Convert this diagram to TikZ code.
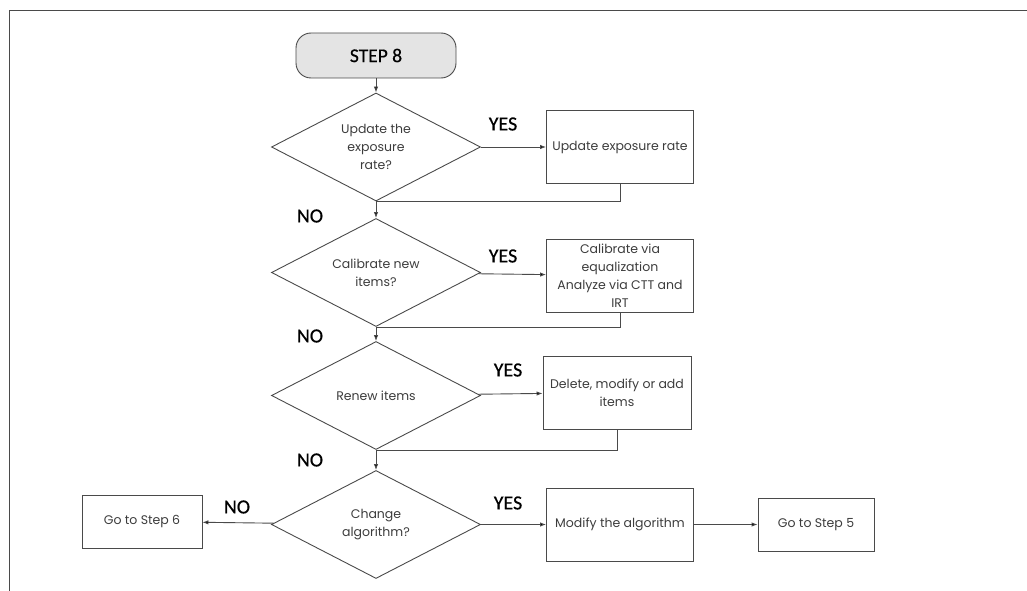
\documentclass[tikz,border=0pt]{standalone}
\usepackage{fontspec}
\setmainfont{Poppins}
\newfontfamily\labelfont[FakeBold=0.6]{Carlito}
\usetikzlibrary{arrows.meta,shapes.geometric}
\definecolor{linegray}{HTML}{4A4A4A}
\definecolor{textgray}{HTML}{3C3C3C}
\definecolor{startfill}{HTML}{E4E4E4}

\begin{document}
\begin{tikzpicture}[x=1pt,y=-1pt,>={Latex[length=6pt,width=4.5pt]},
 font=\fontsize{12.5}{18}\selectfont,line width=0.9pt,
 question/.style={diamond,draw=linegray,aspect=2,minimum width=209pt,minimum height=108pt,inner sep=0pt,align=center,text=textgray},
 action/.style={draw=linegray,minimum width=147pt,minimum height=73pt,inner sep=2pt,align=center,text=textgray},
 start/.style={draw=linegray,fill=startfill,rounded corners=15pt,minimum width=160pt,minimum height=45pt,font=\labelfont\fontsize{19.5}{22}\selectfont},
 ans/.style={font=\labelfont\fontsize{20}{24}\selectfont}]
\useasboundingbox (0,0) rectangle (1027,591);
\draw[linegray] (9,591) -- (9,10) -- (1027,10);
\node[start] (s8) at (376,55.5) {STEP 8};
% exposure rate
\node[question] (q1) at (376,147) {Update the\\exposure\\rate?};
\node[action] (a1) at (620,147) {Update exposure rate};
\node[ans] at (503,124) {YES};
\node[ans] at (310,216) {NO};
% calibration
\node[question] (q2) at (376,272.5) {Calibrate new\\items?};
\node[action] (a2) at (620,275.5) {Calibrate via\\equalization\\Analyze via CTT and\\IRT};
\node[ans] at (503,256) {YES};
\node[ans] at (310,336) {NO};
% renewal
\node[question] (q3) at (376,395.5) {Renew items};
\node[action,minimum width=148pt] (a3) at (617,392.5) {Delete, modify or add\\items};
\node[ans] at (508,370) {YES};
\node[ans] at (310,460) {NO};
% algorithm
\node[question] (q4) at (376,524.5) {Change\\algorithm?};
\node[action] (a4) at (620,524.5) {Modify the algorithm};
\node[action,minimum width=116pt,minimum height=53pt] (g5) at (816,524.5) {Go to Step 5};
\node[action,minimum width=120pt,minimum height=53pt] (g6) at (142,521.5) {Go to Step 6};
\node[ans] at (508,503) {YES};
\node[ans] at (237,507) {NO};
\path[->,draw=linegray]
 (s8) edge (q1)
 (q1) edge (a1)
 (q1) edge (q2)
 (q2) edge (a2)
 (q2) edge (q3)
 (q3) edge (a3)
 (q3) edge (q4)
 (q4) edge (a4)
 (a4) edge (g5)
 (q4) edge (g6);
\draw[linegray] (a1.south) |- (q1.south);
\draw[linegray] (a2.south) |- (q2.south);
\draw[linegray] (a3.south) |- (q3.south);
\end{tikzpicture}
\end{document}
